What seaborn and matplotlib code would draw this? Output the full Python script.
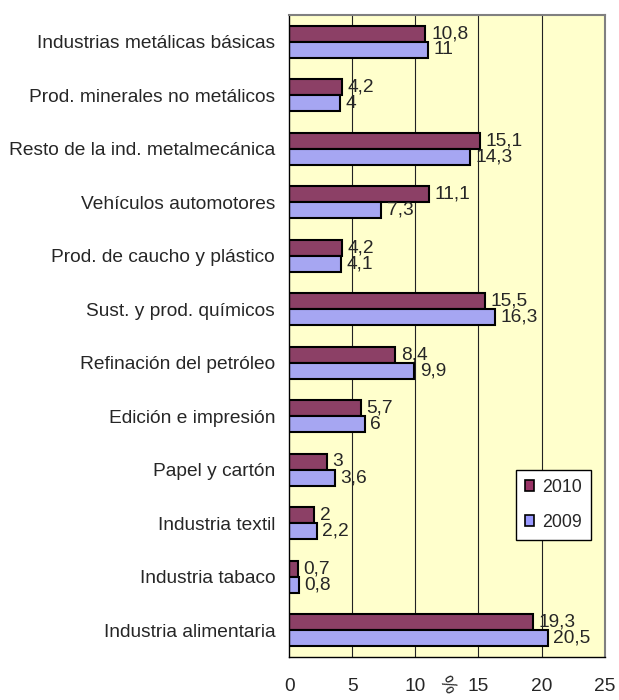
import pandas as pd
import seaborn as sns
import matplotlib.pyplot as plt
from matplotlib.patches import Patch

# Chart data
categories = ['Industrias metálicas básicas', 'Prod. minerales no metálicos',
              'Resto de la ind. metalmecánica', 'Vehículos automotores',
              'Prod. de caucho y plástico', 'Sust. y prod. químicos',
              'Refinación del petróleo', 'Edición e impresión',
              'Papel y cartón', 'Industria textil', 'Industria tabaco',
              'Industria alimentaria']
values_2010 = [10.8, 4.2, 15.1, 11.1, 4.2, 15.5, 8.4, 5.7, 3.0, 2.0, 0.7, 19.3]
values_2009 = [11.0, 4.0, 14.3, 7.3, 4.1, 16.3, 9.9, 6.0, 3.6, 2.2, 0.8, 20.5]
years = ['2010', '2009']
x_ticks = [0, 5, 10, 15, 20, 25]

colors = {'2010': '#993366', '2009': '#9999FF'}

df = pd.DataFrame({
    'Rama': categories * 2,
    'Año': ['2010'] * len(categories) + ['2009'] * len(categories),
    'Valor': values_2010 + values_2009,
})

sns.set_style("white")
plt.rcParams['font.family'] = ['Liberation Sans', 'DejaVu Sans']
fs = 13.8

fig = plt.figure(figsize=(6.19, 7.0), dpi=100)
ax = fig.add_axes([0.467, 0.0614, 0.510, 0.9172])
ax.set_facecolor('#FFFFCC')

sns.barplot(data=df, y='Rama', x='Valor', hue='Año', hue_order=years,
            order=categories, palette=colors, orient='h', width=0.6,
            edgecolor='black', linewidth=1.5, ax=ax, legend=False)

# Value labels with decimal comma
for cont in ax.containers:
    labels = [f"{v:g}".replace('.', ',') for v in cont.datavalues]
    ax.bar_label(cont, labels=labels, padding=4, fontsize=fs)

ax.set_xlim(0, 25)
ax.set_ylim(len(categories) - 0.5, -0.5)
ax.set_xticks(x_ticks)
ax.set_xticklabels([str(t) for t in x_ticks], fontsize=fs)
ax.tick_params(axis='x', direction='out', length=5, width=1, color='#333333', pad=10)

# Category labels centred, tick marks at the group boundaries
ax.set_yticks(range(len(categories)))
ax.set_yticklabels(categories, fontsize=fs)
ax.set_yticks([i + 0.5 for i in range(-1, len(categories))], minor=True)
ax.tick_params(axis='y', which='major', length=0, pad=10)
ax.tick_params(axis='y', which='minor', direction='out', length=5, width=1, color='#333333')

ax.set_xlabel('')
ax.set_ylabel('')

for x in x_ticks[1:-1]:
    ax.axvline(x, color='#222222', linewidth=0.8, zorder=0)

for side in ['left', 'bottom']:
    ax.spines[side].set_color('black')
    ax.spines[side].set_linewidth(1)
for side in ['top', 'right']:
    ax.spines[side].set_color('#808080')
    ax.spines[side].set_linewidth(1.5)

handles = [Patch(facecolor=colors[y], edgecolor='black', linewidth=1.2, label=y) for y in years]
leg = ax.legend(handles=handles, loc='upper left', bbox_to_anchor=(0.718, 0.291),
                frameon=True, fancybox=False, edgecolor='black', fontsize=12.8,
                handlelength=0.55, handleheight=0.55, handletextpad=0.45,
                labelspacing=1.0, borderpad=0.5, borderaxespad=0)
leg.get_frame().set_linewidth(1)
leg.get_frame().set_facecolor('white')
leg.get_frame().set_alpha(1)

# Rotated "%" axis title under the x axis
fig.text(0.722, 0.021, '%', rotation=-60, fontsize=fs, ha='center', va='center')

fig.savefig('out.png', dpi=100)
